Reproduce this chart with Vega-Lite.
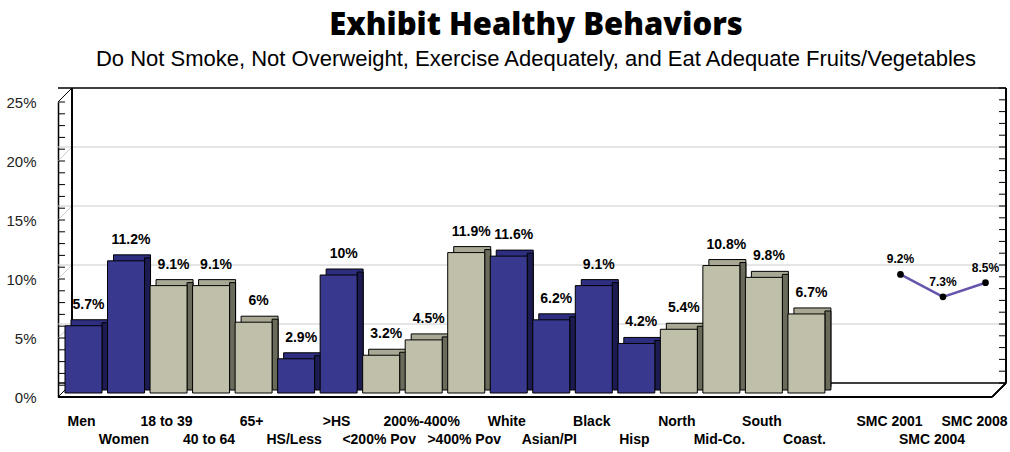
{
  "$schema": "https://vega.github.io/schema/vega-lite/v6.json",
  "width": 934,
  "height": 295,
  "autosize": {"type": "none"},
  "padding": {"left": 58, "top": 102, "right": 18, "bottom": 55},
  "background": "white",
  "config": {"view": {"stroke": null}},
  "title": {
    "text": "Exhibit Healthy Behaviors",
    "subtitle": "Do Not Smoke, Not Overweight, Exercise Adequately, and Eat Adequate Fruits/Vegetables",
    "font": "Open Sans",
    "fontSize": 31,
    "fontWeight": 800,
    "color": "#000000",
    "subtitleFont": "Liberation Sans Narrow, Arial Narrow, Liberation Sans, Arial",
    "subtitleFontSize": 22,
    "subtitleColor": "#000000",
    "subtitlePadding": 7,
    "anchor": "middle",
    "dx": 11,
    "offset": 16
  },
  "datasets": {
    "bars": [
      {"cat": "Men", "v": 0.057, "grp": "A"},
      {"cat": "Women", "v": 0.112, "grp": "A"},
      {"cat": "18 to 39", "v": 0.091, "grp": "B"},
      {"cat": "40 to 64", "v": 0.091, "grp": "B"},
      {"cat": "65+", "v": 0.06, "grp": "B"},
      {"cat": "HS/Less", "v": 0.029, "grp": "A"},
      {"cat": ">HS", "v": 0.10, "grp": "A"},
      {"cat": "<200% Pov", "v": 0.032, "grp": "B"},
      {"cat": "200%-400%", "v": 0.045, "grp": "B"},
      {"cat": ">400% Pov", "v": 0.119, "grp": "B"},
      {"cat": "White", "v": 0.116, "grp": "A"},
      {"cat": "Asian/PI", "v": 0.062, "grp": "A"},
      {"cat": "Black", "v": 0.091, "grp": "A"},
      {"cat": "Hisp", "v": 0.042, "grp": "A"},
      {"cat": "North", "v": 0.054, "grp": "B"},
      {"cat": "Mid-Co.", "v": 0.108, "grp": "B"},
      {"cat": "South", "v": 0.098, "grp": "B"},
      {"cat": "Coast.", "v": 0.067, "grp": "B"}
    ],
    "trend": [
      {"cat": "SMC 2001", "v": 0.092},
      {"cat": "SMC 2004", "v": 0.073},
      {"cat": "SMC 2008", "v": 0.085}
    ],
    "ticks": [
      {"t": 0, "major": true}, {"t": 0.01, "major": false}, {"t": 0.02, "major": false},
      {"t": 0.03, "major": false}, {"t": 0.04, "major": false}, {"t": 0.05, "major": true},
      {"t": 0.06, "major": false}, {"t": 0.07, "major": false}, {"t": 0.08, "major": false},
      {"t": 0.09, "major": false}, {"t": 0.10, "major": true}, {"t": 0.11, "major": false},
      {"t": 0.12, "major": false}, {"t": 0.13, "major": false}, {"t": 0.14, "major": false},
      {"t": 0.15, "major": true}, {"t": 0.16, "major": false}, {"t": 0.17, "major": false},
      {"t": 0.18, "major": false}, {"t": 0.19, "major": false}, {"t": 0.20, "major": true},
      {"t": 0.21, "major": false}, {"t": 0.22, "major": false}, {"t": 0.23, "major": false},
      {"t": 0.24, "major": false}, {"t": 0.25, "major": true}
    ]
  },
  "encoding": {
    "x": {
      "field": "cat",
      "type": "nominal",
      "sort": null,
      "scale": {
        "domain": ["Men", "Women", "18 to 39", "40 to 64", "65+", "HS/Less", ">HS", "<200% Pov", "200%-400%", ">400% Pov", "White", "Asian/PI", "Black", "Hisp", "North", "Mid-Co.", "South", "Coast.", " ", "SMC 2001", "SMC 2004", "SMC 2008"],
        "paddingInner": 0.13,
        "paddingOuter": 0.047
      },
      "axis": {
        "title": null,
        "domain": false,
        "ticks": false,
        "labelAngle": 0,
        "labelFont": "Liberation Sans Narrow, Arial Narrow, Liberation Sans, Arial",
        "labelFontSize": 14,
        "labelFontWeight": "bold",
        "labelColor": "#000000",
        "labelPadding": 17,
        "labelOffset": 3,
        "labelLineHeight": 18,
        "labelOverlap": false,
        "labelBound": false,
        "labelExpr": "indexof(['Women','40 to 64','HS/Less','<200% Pov','>400% Pov','Asian/PI','Hisp','Mid-Co.','Coast.','SMC 2004'], datum.value) >= 0 ? ['', datum.value] : datum.value"
      }
    },
    "y": {
      "field": "v",
      "type": "quantitative",
      "scale": {"domain": [0, 0.25], "nice": false, "zero": true},
      "axis": {
        "title": null,
        "values": [0, 0.05, 0.1, 0.15, 0.2, 0.25],
        "format": "~%",
        "grid": false,
        "ticks": false,
        "domain": true,
        "domainColor": "#000000",
        "domainWidth": 1.5,
        "labelFont": "Liberation Sans Narrow, Arial Narrow, Liberation Sans, Arial",
        "labelFontSize": 15,
        "labelColor": "#222222",
        "labelPadding": 22
      }
    }
  },
  "layer": [
    {
      "data": {"name": "ticks"},
      "transform": [{"filter": "datum.major && datum.t > 0 && datum.t < 0.25"}],
      "mark": {"type": "rule", "color": "#cccccc", "strokeWidth": 1, "xOffset": 14, "yOffset": -14},
      "encoding": {"x": null, "y": {"field": "t", "type": "quantitative"}}
    },
    {
      "data": {"name": "ticks"},
      "transform": [{"filter": "datum.major"}],
      "mark": {"type": "rule", "strokeWidth": 1, "xOffset": -2, "x2Offset": 12, "y2Offset": -14},
      "encoding": {
        "x": {"datum": "Men", "bandPosition": 0},
        "x2": {"datum": "Men", "bandPosition": 0},
        "y": {"field": "t", "type": "quantitative"},
        "y2": {"field": "t"},
        "color": {"condition": {"test": "datum.t == 0 || datum.t == 0.25", "value": "#000000"}, "value": "#cccccc"}
      }
    },
    {
      "data": {"name": "ticks"},
      "transform": [{"filter": "datum.t == 0 || datum.t == 0.25"}],
      "mark": {"type": "rule", "color": "#000000", "strokeWidth": 1.5, "xOffset": 14, "yOffset": -14},
      "encoding": {"x": null, "y": {"field": "t", "type": "quantitative"}}
    },
    {
      "data": {"name": "trend"},
      "mark": {"type": "rule", "color": "#000000", "strokeWidth": 1.5, "xOffset": 12, "yOffset": -14, "x2Offset": 12, "y2Offset": -14},
      "encoding": {
        "x": {"datum": "Men", "bandPosition": 0},
        "y": {"datum": 0},
        "y2": {"datum": 0.25}
      }
    },
    {
      "data": {"name": "trend"},
      "mark": {"type": "rule", "color": "#000000", "strokeWidth": 1.5, "xOffset": 16, "yOffset": -14, "x2Offset": 16, "y2Offset": -14},
      "encoding": {
        "x": {"datum": "SMC 2008", "bandPosition": 1},
        "y": {"datum": 0},
        "y2": {"datum": 0.25}
      }
    },
    {
      "data": {"name": "ticks"},
      "mark": {"type": "rule", "color": "#000000", "strokeWidth": 1, "xOffset": 9, "yOffset": -14, "x2Offset": 16, "y2Offset": -14},
      "encoding": {
        "x": {"datum": "SMC 2008", "bandPosition": 1},
        "x2": {"datum": "SMC 2008", "bandPosition": 1},
        "y": {"field": "t", "type": "quantitative"},
        "y2": {"field": "t"}
      }
    },
    {
      "data": {"name": "ticks"},
      "mark": {"type": "rule", "color": "#000000", "strokeWidth": 1, "xOffset": -2, "x2Offset": 5},
      "encoding": {
        "x": {"datum": "Men", "bandPosition": 0},
        "x2": {"datum": "Men", "bandPosition": 0},
        "y": {"field": "t", "type": "quantitative"},
        "y2": {"field": "t"}
      }
    },
    {
      "data": {"name": "trend"},
      "mark": {"type": "rule", "color": "#000000", "strokeWidth": 1.5, "xOffset": 2, "x2Offset": 16, "y2Offset": -14},
      "encoding": {
        "x": {"datum": "SMC 2008", "bandPosition": 1},
        "x2": {"datum": "SMC 2008", "bandPosition": 1},
        "y": {"datum": 0},
        "y2": {"datum": 0}
      }
    },
    {
      "data": {"name": "bars"},
      "mark": {"type": "bar", "xOffset": 11, "yOffset": -10, "stroke": "#000000", "strokeWidth": 1},
      "encoding": {
        "color": {"condition": {"test": "datum.grp == 'A'", "value": "#2e2e80"}, "value": "#a8a894"}
      }
    },
    {
      "data": {"name": "bars"},
      "mark": {"type": "bar", "width": 6, "xOffset": 26.5, "yOffset": -7, "stroke": "#000000", "strokeWidth": 1},
      "encoding": {
        "color": {"condition": {"test": "datum.grp == 'A'", "value": "#1c1c52"}, "value": "#6b6b5c"}
      }
    },
    {
      "data": {"name": "bars"},
      "mark": {"type": "bar", "xOffset": 5, "yOffset": -4, "stroke": "#000000", "strokeWidth": 1},
      "encoding": {
        "color": {"condition": {"test": "datum.grp == 'A'", "value": "#38388e"}, "value": "#c0c0aa"}
      }
    },
    {
      "data": {"name": "bars"},
      "mark": {"type": "text", "xOffset": 10, "dy": -21, "baseline": "alphabetic", "font": "Liberation Sans Narrow, Arial Narrow, Liberation Sans, Arial", "fontSize": 14, "fontWeight": "bold", "color": "#000000"},
      "encoding": {"text": {"field": "v", "format": ".1~%"}}
    },
    {
      "data": {"name": "ticks"},
      "transform": [{"filter": "datum.t == 0"}],
      "mark": {"type": "rule", "color": "#000000", "strokeWidth": 2},
      "encoding": {"x": null, "y": {"field": "t", "type": "quantitative"}}
    },
    {
      "data": {"name": "trend"},
      "mark": {"type": "line", "color": "#6655aa", "strokeWidth": 2.5, "xOffset": 14, "yOffset": -14}
    },
    {
      "data": {"name": "trend"},
      "mark": {"type": "circle", "color": "#000000", "opacity": 1, "size": 45, "xOffset": 14, "yOffset": -14}
    },
    {
      "data": {"name": "trend"},
      "mark": {"type": "text", "xOffset": 14, "yOffset": -14, "dy": -11, "baseline": "alphabetic", "font": "Liberation Sans Narrow, Arial Narrow, Liberation Sans, Arial", "fontSize": 12, "fontWeight": "bold", "color": "#000000"},
      "encoding": {"text": {"field": "v", "format": ".1~%"}}
    }
  ]
}
